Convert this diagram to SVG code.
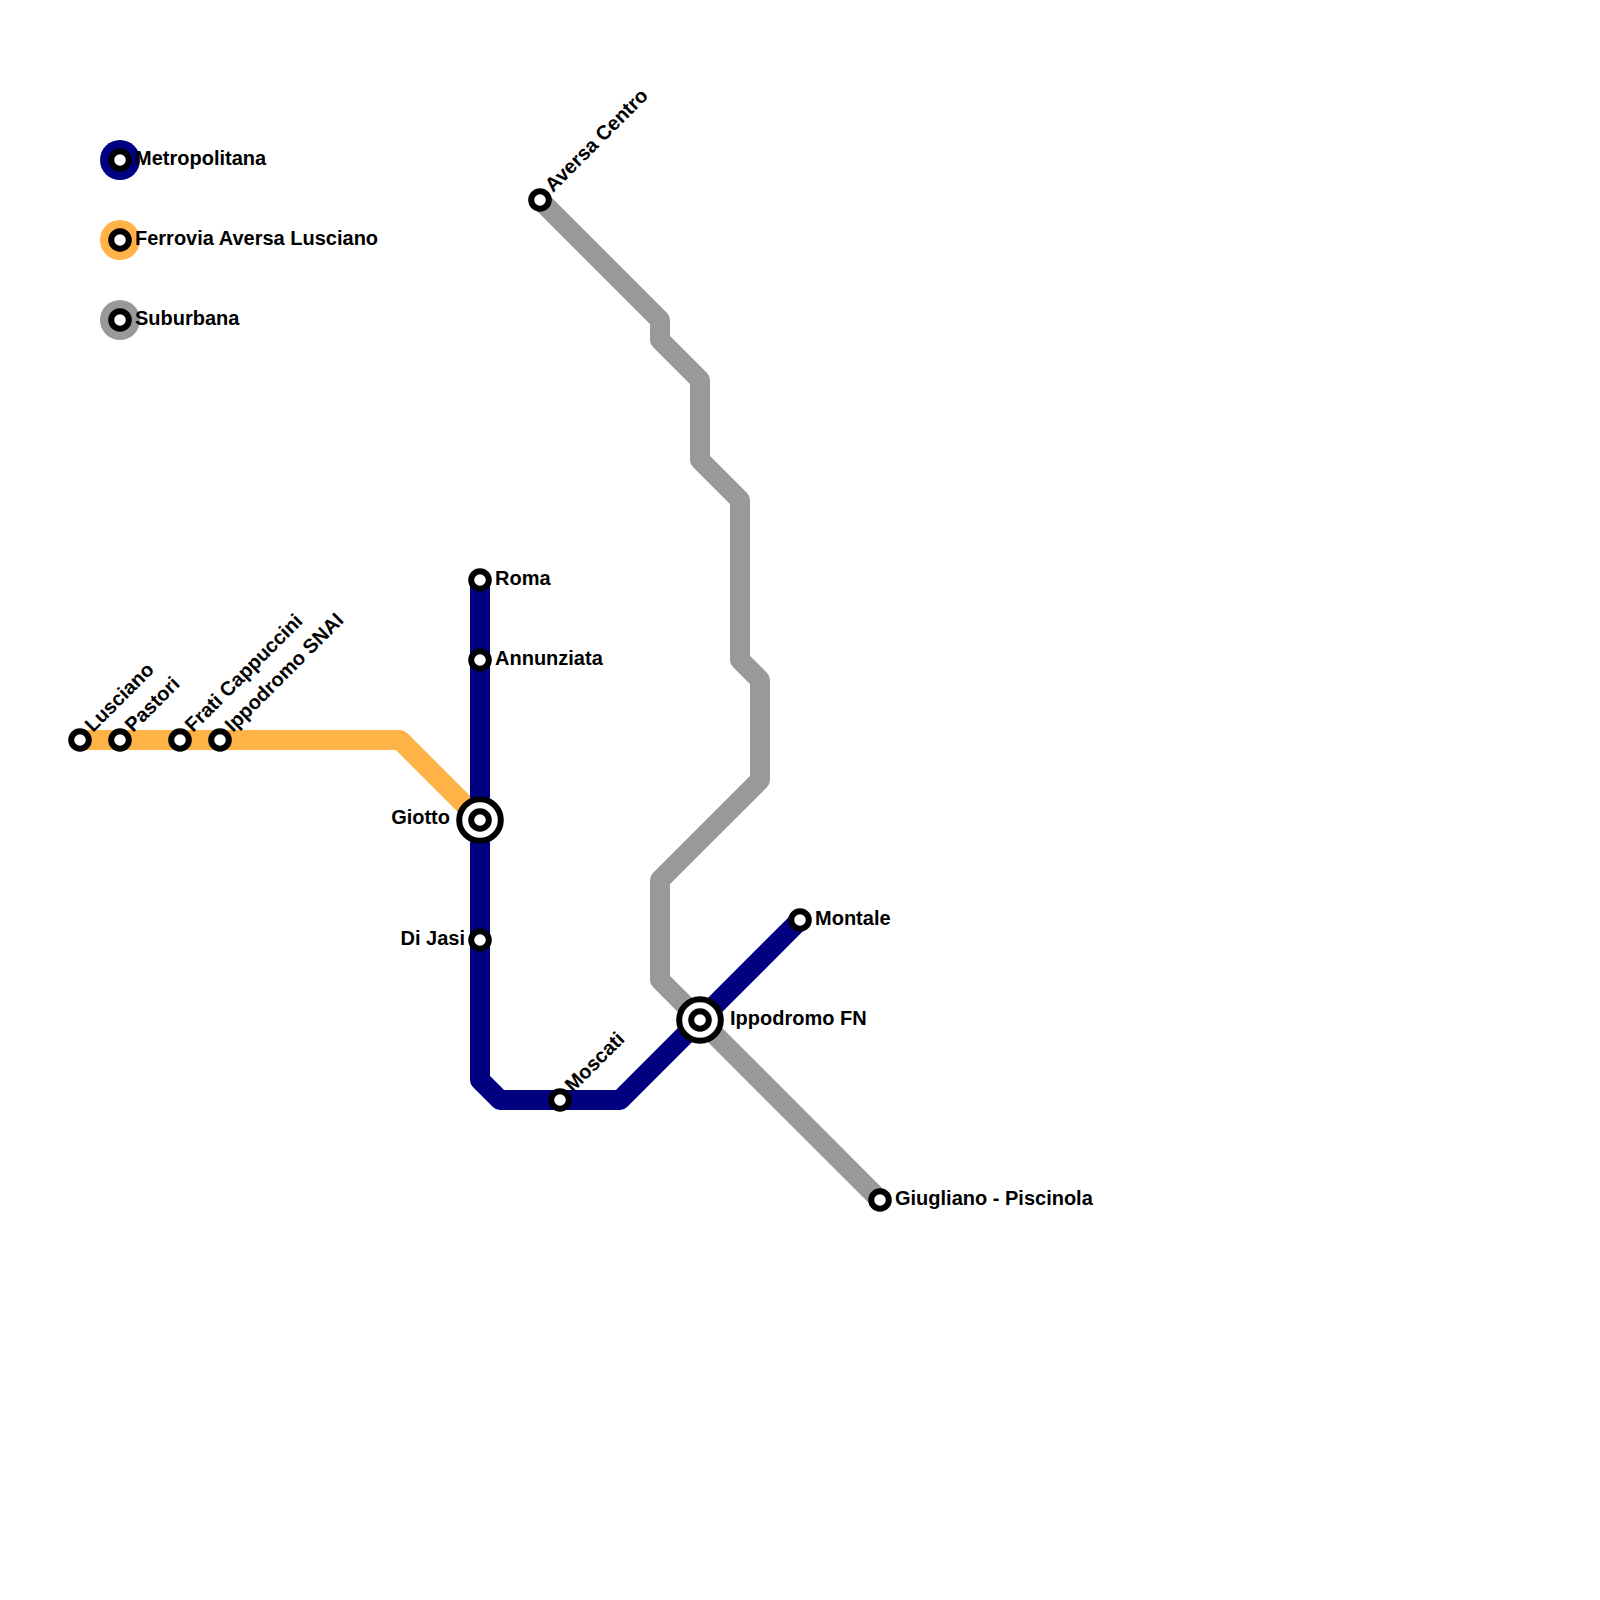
<svg xmlns="http://www.w3.org/2000/svg" width="1600" height="1600" viewBox="0 0 1600 1600">
<style>
text{font-family:"Liberation Sans",Arial,sans-serif;font-weight:700;font-size:20px;fill:#000}
.l{fill:none;stroke-width:20;stroke-linejoin:round}
.m{stroke:#000080}.f{stroke:#ffb347}.s{stroke:#999999}
.st{fill:#fff;stroke:#000;stroke-width:6}
.ic{fill:#fff;stroke:#000;stroke-width:6}
</style>
<g id="connectors">
<polyline class="l s" points="540,200 660,320 660,340 700,380 700,460 740,500 740,660 760,680 760,780 660,880 660,980 880,1200"/>
<polyline class="l f" points="80,740 400,740 480,820"/>
<polyline class="l m" points="480,580 480,1080 500,1100 620,1100 800,920"/>
</g>
<g id="legend-metropolitana"><circle cx="120" cy="160" r="20" fill="#000080"/><circle class="st" cx="120" cy="160" r="8.8"/><text x="135" y="165">Metropolitana</text></g>
<g id="legend-ferrovia"><circle cx="120" cy="240" r="20" fill="#ffb347"/><circle class="st" cx="120" cy="240" r="8.8"/><text x="135" y="245">Ferrovia Aversa Lusciano</text></g>
<g id="legend-suburbana"><circle cx="120" cy="320" r="20" fill="#999999"/><circle class="st" cx="120" cy="320" r="8.8"/><text x="135" y="325">Suburbana</text></g>
<g id="lusciano"><circle class="st" cx="80" cy="740" r="8.8"/><text transform="translate(93,733) rotate(-45)">Lusciano</text></g>
<g id="pastori"><circle class="st" cx="120" cy="740" r="8.8"/><text transform="translate(133,733) rotate(-45)">Pastori</text></g>
<g id="frati"><circle class="st" cx="180" cy="740" r="8.8"/><text transform="translate(193,733) rotate(-45)">Frati Cappuccini</text></g>
<g id="ippodromo-snai"><circle class="st" cx="220" cy="740" r="8.8"/><text transform="translate(233,733) rotate(-45)">Ippodromo SNAI</text></g>
<g id="aversa"><circle class="st" cx="540" cy="200" r="8.8"/><text transform="translate(553,193) rotate(-45)">Aversa Centro</text></g>
<g id="roma"><circle class="st" cx="480" cy="580" r="8.8"/><text x="495" y="585">Roma</text></g>
<g id="annunziata"><circle class="st" cx="480" cy="660" r="8.8"/><text x="495" y="665">Annunziata</text></g>
<g id="giotto"><circle class="ic" cx="480" cy="820" r="20.8"/><circle class="st" cx="480" cy="820" r="8.8"/><text x="450" y="824" text-anchor="end">Giotto</text></g>
<g id="di-jasi"><circle class="st" cx="480" cy="940" r="8.8"/><text x="465" y="945" text-anchor="end">Di Jasi</text></g>
<g id="moscati"><circle class="st" cx="560" cy="1100" r="8.8"/><text transform="translate(573,1093) rotate(-45)">Moscati</text></g>
<g id="ippodromo-fn"><circle class="ic" cx="700" cy="1020" r="20.8"/><circle class="st" cx="700" cy="1020" r="8.8"/><text x="730" y="1025">Ippodromo FN</text></g>
<g id="montale"><circle class="st" cx="800" cy="920" r="8.8"/><text x="815" y="925">Montale</text></g>
<g id="giugliano"><circle class="st" cx="880" cy="1200" r="8.8"/><text x="895" y="1205">Giugliano - Piscinola</text></g>
</svg>
